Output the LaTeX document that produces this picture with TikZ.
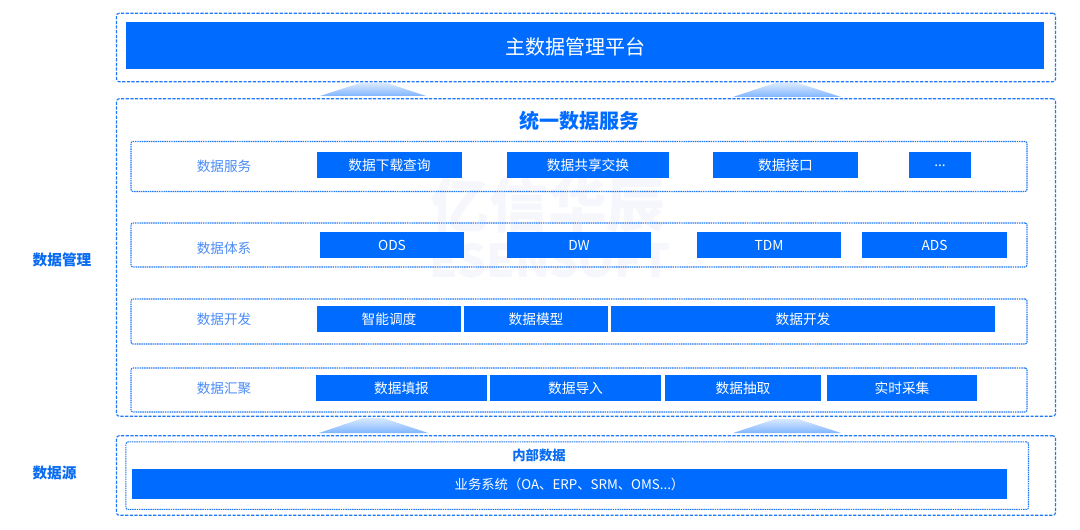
\documentclass[tikz,border=0pt]{standalone}
\usepackage{fontspec}
\setmainfont{Noto Sans CJK SC}
\definecolor{mainblue}{HTML}{006CFF}
\definecolor{linkblue}{HTML}{1F78F7}
\definecolor{lblblue}{HTML}{4A8CF5}
\definecolor{headblue}{HTML}{0A6CF0}
\definecolor{wmgray}{HTML}{F6F7FD}
\tikzset{
  x=0.75pt,y=-0.75pt,
  bar/.style={fill=mainblue,text=white,inner sep=0pt,font=\fontsize{10.3}{12}\selectfont,anchor=center},
  outerbox/.style={draw=linkblue,line width=0.85pt,dash pattern=on 2.4pt off 1.1pt,rounded corners=2pt,inner sep=0pt},
  innerbox/.style={draw=linkblue,line width=0.8pt,dash pattern=on 1.1pt off 0.6pt,rounded corners=1.5pt,inner sep=0pt},
  rowlabel/.style={text=lblblue,font=\fontsize{10.2}{12}\selectfont,inner sep=0pt},
  sidelabel/.style={text=headblue,font=\fontsize{11}{13}\selectfont\bfseries,inner sep=0pt},
  uparrow/.style={top color=mainblue!15,bottom color=mainblue!50,draw=none},
}
\newcommand{\panel}[6]{\node[#1,minimum width=#4*0.75pt,minimum height=#5*0.75pt] (#6) at (#2,#3) {};}
\newcommand{\barbox}[6]{\node[bar,minimum width=#3*0.75pt,minimum height=#4*0.75pt] (#5) at (#1,#2) {#6};}
\begin{document}
\begin{tikzpicture}
\useasboundingbox (0,0) rectangle (1080,530);
\fill[white] (0,0) rectangle (1080,530);
% watermark
\node[text=wmgray,font=\fontsize{44}{50}\selectfont\bfseries,inner sep=0pt] (wm1) at (548,205) {亿信华辰};
\node[text=wmgray,font=\fontsize{34}{38}\selectfont\bfseries,inner sep=0pt] (wm2) at (550,261) {ESENSOFT};
% outer panels
\panel{outerbox}{586}{47.5}{939}{68.5}{pTop}
\panel{outerbox}{586}{257.5}{939}{317.5}{pMid}
\panel{outerbox}{586}{475.5}{939}{79.5}{pSrc}
% arrows
\shade[uparrow] (320,96) -- (360,83) -- (387,83) -- (426,96) -- cycle;
\shade[uparrow] (733,97) -- (775,83) -- (798,83) -- (841,97) -- cycle;
\shade[uparrow] (319,433) -- (363,418) -- (383,418) -- (428,433) -- cycle;
\shade[uparrow] (733,433) -- (775,419) -- (798,419) -- (841,433) -- cycle;
% top
\node[bar,minimum width=918*0.75pt,minimum height=47*0.75pt] (master) at (585,45.5) {};
\node[text=white,font=\fontsize{15}{17}\selectfont,inner sep=0pt] (mastertext) at (575,46.5) {主数据管理平台};
\node[text=mainblue,font=\fontsize{15}{17}\selectfont\bfseries,inner sep=0pt] (title) at (579,120.5) {统一数据服务};
% rows
\panel{innerbox}{579}{166.5}{896}{50}{r1}
\panel{innerbox}{579}{245}{896}{44}{r2}
\panel{innerbox}{579}{321.5}{896}{45}{r3}
\panel{innerbox}{579}{390}{896}{44}{r4}
\panel{innerbox}{577.2}{475.7}{902.5}{67.5}{r5}
% row labels
\node[rowlabel] (l1) at (224,166) {数据服务};
\node[rowlabel] (l2) at (224,248) {数据体系};
\node[rowlabel] (l3) at (224,319) {数据开发};
\node[rowlabel] (l4) at (224,388) {数据汇聚};
% row 1
\barbox{389.5}{165.5}{145}{26}{a1}{数据下载查询}
\barbox{588}{165.5}{162}{26}{a2}{数据共享交换}
\barbox{785.5}{165.5}{145}{26}{a3}{数据接口}
\barbox{940}{165.5}{62}{26}{a4}{...}
% row 2
\barbox{392}{245.5}{144}{26}{b1}{ODS}
\barbox{579}{245.5}{144}{26}{b2}{DW}
\barbox{769}{245.5}{144}{26}{b3}{TDM}
\barbox{934.5}{245.5}{145}{26}{b4}{ADS}
% row 3
\barbox{389}{319.5}{144}{26}{c1}{智能调度}
\barbox{536}{319.5}{144}{26}{c2}{数据模型}
\barbox{803}{319.5}{384}{26}{c3}{数据开发}
% row 4
\barbox{401.5}{388}{171}{26}{d1}{数据填报}
\barbox{575.5}{388}{171}{26}{d2}{数据导入}
\barbox{743}{388}{156}{26}{d3}{数据抽取}
\barbox{902}{388}{150}{26}{d4}{实时采集}
% source
\node[text=headblue,font=\fontsize{10}{11}\selectfont\bfseries,inner sep=0pt] (inner) at (539,455) {内部数据};
\barbox{569.5}{484}{875}{30}{e1}{}
\node[text=white,font=\fontsize{10}{12}\selectfont,inner sep=0pt] (e1text) at (569.5,484) {业务系统（OA、ERP、SRM、OMS...）};
% side
\node[sidelabel] (s1) at (62,260) {数据管理};
\node[sidelabel] (s2) at (54.5,473) {数据源};
\end{tikzpicture}
\end{document}
